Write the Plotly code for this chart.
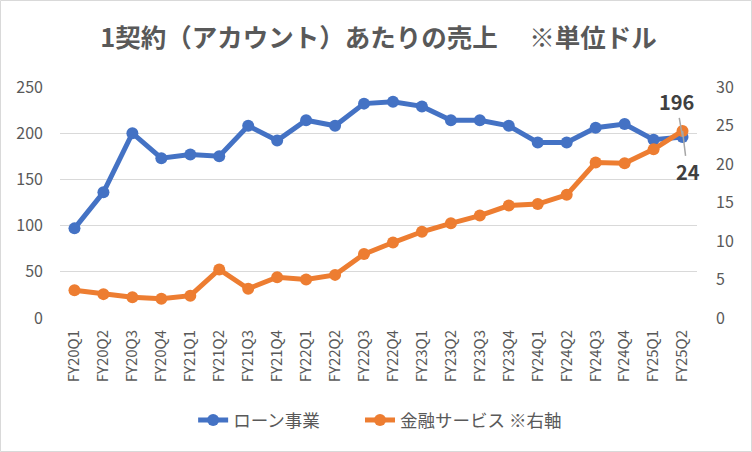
import plotly.graph_objects as go

# Data
quarters = ['FY20Q1', 'FY20Q2', 'FY20Q3', 'FY20Q4', 'FY21Q1', 'FY21Q2', 'FY21Q3', 'FY21Q4',
            'FY22Q1', 'FY22Q2', 'FY22Q3', 'FY22Q4', 'FY23Q1', 'FY23Q2', 'FY23Q3', 'FY23Q4',
            'FY24Q1', 'FY24Q2', 'FY24Q3', 'FY24Q4', 'FY25Q1', 'FY25Q2']
loan = [97, 136, 200, 173, 177, 175, 208, 192, 214, 208, 232, 234,
        229, 214, 214, 208, 190, 190, 206, 210, 193, 196]
finance = [3.6, 3.1, 2.7, 2.5, 2.9, 6.3, 3.8, 5.3, 5.0, 5.6, 8.3, 9.8,
           11.2, 12.3, 13.3, 14.6, 14.8, 16.0, 20.2, 20.1, 21.9, 24.3]

BLUE = '#4472C4'
ORANGE = '#ED7D31'
GREY = '#595959'
FONT = 'Noto Sans CJK JP'


def main():
    fig = go.Figure()
    fig.add_trace(go.Scatter(
        x=quarters, y=loan, name='ローン事業', mode='lines+markers',
        line=dict(color=BLUE, width=5), marker=dict(size=12, color=BLUE),
        legend='legend', showlegend=True,
    ))
    fig.add_trace(go.Scatter(
        x=quarters, y=finance, name='金融サービス ※右軸', mode='lines+markers',
        line=dict(color=ORANGE, width=5), marker=dict(size=12, color=ORANGE),
        yaxis='y2', legend='legend2', showlegend=True,
    ))

    # Data labels for the last quarter, with grey leader lines
    fig.add_annotation(
        x=quarters[-1], y=loan[-1], text='<b>%d</b>' % loan[-1],
        showarrow=True, arrowhead=0, arrowcolor='#A6A6A6', arrowwidth=1.5,
        ax=-6, ay=-35, font=dict(size=20, color='#404040', family=FONT),
    )
    fig.add_annotation(
        x=quarters[-1], y=finance[-1], yref='y2', text='<b>%d</b>' % round(finance[-1]),
        showarrow=True, arrowhead=0, arrowcolor='#A6A6A6', arrowwidth=1.5,
        ax=5, ay=41, font=dict(size=20, color='#404040', family=FONT),
    )

    legend_style = dict(orientation='h', xanchor='left', y=-0.442, yanchor='middle',
                        font=dict(size=17.5, color=GREY), bgcolor='rgba(0,0,0,0)',
                        visible=True)

    fig.update_layout(
        width=752, height=452, showlegend=True,
        paper_bgcolor='white', plot_bgcolor='white',
        margin=dict(l=60, r=55, t=87, b=134),
        font=dict(family=FONT, color=GREY),
        title=dict(
            text='<b>1契約（アカウント）あたりの売上　 ※単位ドル</b>',
            x=0.5, xanchor='center', xref='paper', y=0.915, yanchor='middle',
            font=dict(size=25.5, color=GREY, family=FONT),
        ),
        xaxis=dict(
            type='category', range=[-0.5, len(quarters) - 0.5],
            tickangle=-90, tickfont=dict(size=15, color=GREY),
            showgrid=False, showline=False, ticks='', ticklabelstandoff=8,
        ),
        yaxis=dict(
            range=[0, 250], dtick=50, showgrid=True, gridcolor='#D9D9D9', gridwidth=1.3,
            zeroline=False, showline=False, tickfont=dict(size=16, color=GREY),
            ticks='', ticklabelstandoff=16,
        ),
        yaxis2=dict(
            range=[0, 30], dtick=5, overlaying='y', side='right', showgrid=False,
            zeroline=False, showline=False, tickfont=dict(size=16, color=GREY),
            ticks='', ticklabelstandoff=18,
        ),
        legend=dict(x=0.209, **legend_style),
        legend2=dict(x=0.471, **legend_style),
        shapes=[dict(
            type='rect', xref='paper', yref='paper',
            x0=-59.5 / 637, x1=1 + 54.5 / 637, y0=-133.5 / 231, y1=1 + 86.5 / 231,
            line=dict(color='#D9D9D9', width=1),
        )],
    )

    # drop the page's default body margin so the chart sits at the window's corner
    fig.write_html('out.html', config={'displayModeBar': False},
                   post_script="document.body.style.margin='0px';")


if __name__ == '__main__':
    main()
